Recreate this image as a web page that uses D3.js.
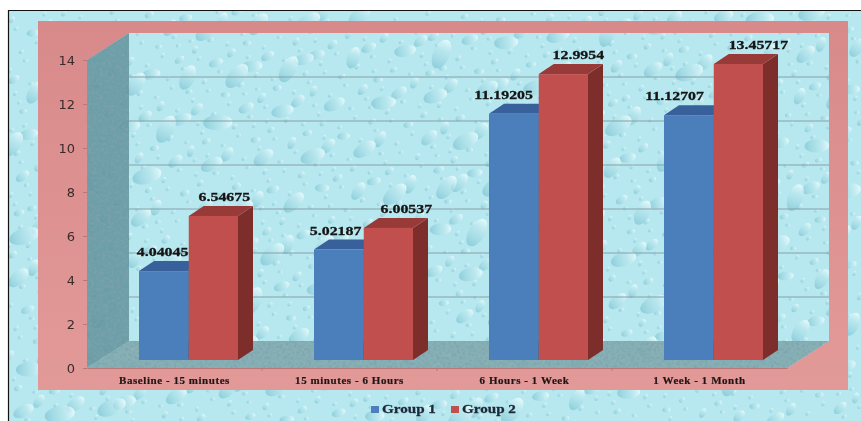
<!DOCTYPE html>
<html>
<head>
<meta charset="utf-8">
<script src="https://cdn.jsdelivr.net/npm/d3@7"></script>
<style>
  html, body { margin: 0; padding: 0; background: #fff; }
  svg { display: block; }
</style>
</head>
<body>
<div id="chart"></div>
<script>
const categories = ['Baseline - 15 minutes', '15 minutes - 6 Hours', '6 Hours - 1 Week', '1 Week - 1 Month'];
const groups = ['Group 1', 'Group 2'];
const group1 = [4.04045, 5.02187, 11.19205, 11.12707];
const group2 = [6.54675, 6.00537, 12.9954, 13.45717];
const group1Labels = ['4.04045', '5.02187', '11.19205', '11.12707'];
const group2Labels = ['6.54675', '6.00537', '12.9954', '13.45717'];
const yTicks = [0, 2, 4, 6, 8, 10, 12, 14];

// hand placed label shifts from the bar centre
const group1LabelDx = [-1, -3, -10, -14];
const group2LabelDx = [11, 18, 15, 20];

const width = 861;
const height = 421;
const depth = {x: 42, y: -27};     // wall depth
const barDepth = {x: 15, y: -10};  // bar depth
const colors = {
  'Group 1': {front: '#4c7fbc', top: '#37609a', side: '#2f5285'},
  'Group 2': {front: '#c0504d', top: '#983a37', side: '#7e2e2c'}
};

const svg = d3.select('#chart')
  .append('svg')
  .attr('width', width)
  .attr('height', height);

const defs = svg.append('defs');

const dropGrad = defs.append('linearGradient').attr('id', 'drop').attr('x1', 0).attr('y1', 0).attr('x2', 1).attr('y2', 0);
dropGrad.append('stop').attr('offset', 0).attr('stop-color', '#7cc3d2').attr('stop-opacity', 0.7);
dropGrad.append('stop').attr('offset', 0.55).attr('stop-color', '#aee0e9').attr('stop-opacity', 0.5);
dropGrad.append('stop').attr('offset', 1).attr('stop-color', '#eafcfd').attr('stop-opacity', 0.9);

const clip = defs.append('clipPath').attr('id', 'bgClip');
clip.append('rect').attr('x', 8).attr('y', 11).attr('width', width - 8).attr('height', height - 11);

const blur = defs.append('filter').attr('id', 'soft').attr('x', '-5%').attr('y', '-5%').attr('width', '110%').attr('height', '110%');
blur.append('feGaussianBlur').attr('stdDeviation', 0.45);

const dropBlur = defs.append('filter').attr('id', 'dropSoft').attr('x', 0).attr('y', 0).attr('width', '100%').attr('height', '100%');
dropBlur.append('feGaussianBlur').attr('stdDeviation', 0.7);

// speckle for the dark wall and floor
const grain = defs.append('filter').attr('id', 'grain').attr('x', 0).attr('y', 0).attr('width', '100%').attr('height', '100%');
grain.append('feTurbulence').attr('type', 'fractalNoise').attr('baseFrequency', 0.35).attr('numOctaves', 2).attr('seed', 4).attr('result', 'noise');
grain.append('feColorMatrix').attr('in', 'noise').attr('type', 'matrix')
  .attr('values', '0 0 0 0 0.2  0 0 0 0 0.35  0 0 0 0 0.4  0 3 0 0 -1.3').attr('result', 'dots');
grain.append('feComposite').attr('in', 'dots').attr('in2', 'SourceAlpha').attr('operator', 'in');

const pinkGrad = defs.append('linearGradient').attr('id', 'pink').attr('x1', 0).attr('y1', 0).attr('x2', 0).attr('y2', 1);
pinkGrad.append('stop').attr('offset', 0).attr('stop-color', '#d88a8a');
pinkGrad.append('stop').attr('offset', 1).attr('stop-color', '#e29a98');

// background, water drops placed on a low discrepancy sequence
svg.append('rect').attr('x', 8).attr('y', 11).attr('width', width - 8).attr('height', height - 11).attr('fill', '#b8e8ef');
const drops = d3.range(1, 1500).map(i => {
  const s = (i * 0.8191725) % 1;
  const big = s * s * s * s * s;
  return {
    x: 8 + ((i * 0.7548777) % 1) * (width - 8),
    y: 11 + ((i * 0.5698403) % 1) * (height - 11),
    rx: 2.5 + big * 13,
    ry: 1.8 + big * 6.5,
    angle: -70 + ((i * 0.381966) % 1) * 70
  };
}).sort((a, b) => a.rx - b.rx);

svg.append('g')
  .attr('clip-path', 'url(#bgClip)')
  .append('g')
  .attr('filter', 'url(#dropSoft)')
  .selectAll('ellipse')
  .data(drops)
  .join('ellipse')
  .attr('transform', d => `translate(${d.x},${d.y}) rotate(${d.angle})`)
  .attr('rx', d => d.rx)
  .attr('ry', d => d.ry)
  .attr('fill', 'url(#drop)');

svg.append('path').attr('d', `M8.5,${height}V10.5H${width}`).attr('fill', 'none').attr('stroke', '#111').attr('stroke-width', 1.2);

// pink panel with the window for the wall
const panel = {left: 38, top: 21, right: 848, bottom: 390};

const x = d3.scaleBand().domain(categories).range([87, 787]);
const xGroup = d3.scaleBand().domain(groups).range([52, 151]).paddingInner(0.01);
const y = d3.scaleLinear().domain([0, 14]).range([368, 60]);   // front of the axis
const yBar = d3.scaleLinear().domain([0, 14]).range([360, 52]); // where the bars stand

const wallTop = y(14) + depth.y;
const wallBottom = y(0) + depth.y;
const wallLeft = x.range()[0] + depth.x;
const wallRight = x.range()[1] + depth.x;

const pinkPath = `M${panel.left},${panel.top}H${panel.right}V${panel.bottom}H${panel.left}Z`
  + `M${x.range()[0]},${y(14)}L${wallLeft},${wallTop}H${wallRight}V${wallBottom}L${x.range()[1]},${y(0)}H${x.range()[0]}Z`;
svg.append('path').attr('d', pinkPath).attr('fill', 'url(#pink)').attr('fill-rule', 'evenodd').attr('filter', 'url(#soft)');

// side wall and floor, darkened
const wallPath = `M${x.range()[0]},${y(14)}L${wallLeft},${wallTop}V${wallBottom}L${x.range()[0]},${y(0)}Z`;
const floorPath = `M${x.range()[0]},${y(0)}L${wallLeft},${wallBottom}H${wallRight}L${x.range()[1]},${y(0)}Z`;
svg.append('path').attr('d', wallPath).attr('fill', '#5f929b').attr('opacity', 0.85);
svg.append('path').attr('d', floorPath).attr('fill', '#7ba3a8').attr('opacity', 0.82);
svg.append('path').attr('d', wallPath).attr('filter', 'url(#grain)');
svg.append('path').attr('d', floorPath).attr('filter', 'url(#grain)').attr('opacity', 0.7);

// gridlines on the back wall
svg.append('g').selectAll('line')
  .data(yTicks.filter(d => d > 0 && d < 14))
  .join('line')
  .attr('x1', wallLeft).attr('x2', wallRight)
  .attr('y1', d => y(d) + depth.y).attr('y2', d => y(d) + depth.y)
  .attr('stroke', '#85a0a8').attr('stroke-width', 1.2);

// y axis
const yAxis = svg.append('g')
  .attr('transform', `translate(${x.range()[0]},0)`)
  .call(d3.axisLeft(y).tickValues(yTicks).tickSize(4).tickPadding(8));
yAxis.select('.domain').remove();
yAxis.selectAll('line').attr('stroke', '#b77');
yAxis.selectAll('text')
  .attr('font-family', '"DejaVu Sans", sans-serif')
  .attr('font-size', 13)
  .attr('fill', '#3c2a2a');

// x axis
const xAxis = svg.append('g')
  .attr('transform', `translate(0,${y(0)})`)
  .call(d3.axisBottom(x).tickSize(0).tickPadding(8));
xAxis.select('.domain').attr('stroke', '#b77');
xAxis.selectAll('text')
  .attr('font-family', '"Liberation Serif", serif')
  .attr('font-weight', 'bold')
  .attr('font-size', 11)
  .attr('letter-spacing', 0.55)
  .attr('stroke', '#221414')
  .attr('stroke-width', 0.2)
  .attr('fill', '#221414');
svg.append('g').selectAll('line')
  .data(categories.slice(1))
  .join('line')
  .attr('x1', d => x(d)).attr('x2', d => x(d))
  .attr('y1', y(0)).attr('y2', y(0) + 3)
  .attr('stroke', '#b77');

// bars
const rows = categories.flatMap((c, i) => [
  {category: c, group: 'Group 1', value: group1[i], label: group1Labels[i], dx: group1LabelDx[i]},
  {category: c, group: 'Group 2', value: group2[i], label: group2Labels[i], dx: group2LabelDx[i]}
]);

const bars = svg.append('g').selectAll('g')
  .data(rows)
  .join('g')
  .attr('filter', 'url(#soft)');

bars.each(function(d) {
  const g = d3.select(this);
  const x0 = x(d.category) + xGroup(d.group);
  const x1 = x0 + xGroup.bandwidth();
  const top = yBar(d.value);
  const base = yBar(0);
  const c = colors[d.group];
  g.append('path')
    .attr('d', `M${x1},${top}L${x1 + barDepth.x},${top + barDepth.y}V${base + barDepth.y}L${x1},${base}Z`)
    .attr('fill', c.side);
  g.append('path')
    .attr('d', `M${x0},${top}L${x0 + barDepth.x},${top + barDepth.y}H${x1 + barDepth.x}L${x1},${top}Z`)
    .attr('fill', c.top);
  g.append('rect')
    .attr('x', x0).attr('y', top)
    .attr('width', x1 - x0).attr('height', base - top)
    .attr('fill', c.front);
});

// data labels
svg.append('g').selectAll('text')
  .data(rows)
  .join('text')
  .attr('transform', d => `translate(${x(d.category) + xGroup(d.group) + xGroup.bandwidth() / 2 + d.dx},${yBar(d.value) - 15}) scale(1.22,1)`)
  .attr('text-anchor', 'middle')
  .attr('font-family', '"Liberation Serif", serif')
  .attr('font-weight', 'bold')
  .attr('font-size', 13)
  .attr('stroke', '#141414')
  .attr('stroke-width', 0.3)
  .attr('fill', '#141414')
  .text(d => d.label);

// legend
const legend = svg.append('g').selectAll('g')
  .data(groups)
  .join('g')
  .attr('transform', (d, i) => `translate(${371 + i * 80},413)`);
legend.append('rect')
  .attr('y', -7).attr('width', 8).attr('height', 7)
  .attr('fill', d => colors[d].front);
legend.append('text')
  .attr('transform', 'translate(11,0) scale(1.12,1)')
  .attr('font-family', '"Liberation Serif", serif')
  .attr('font-weight', 'bold')
  .attr('font-size', 13.5)
  .attr('stroke', '#1c2a3a')
  .attr('stroke-width', 0.3)
  .attr('fill', '#1c2a3a')
  .text(d => d);
</script>
</body>
</html>
